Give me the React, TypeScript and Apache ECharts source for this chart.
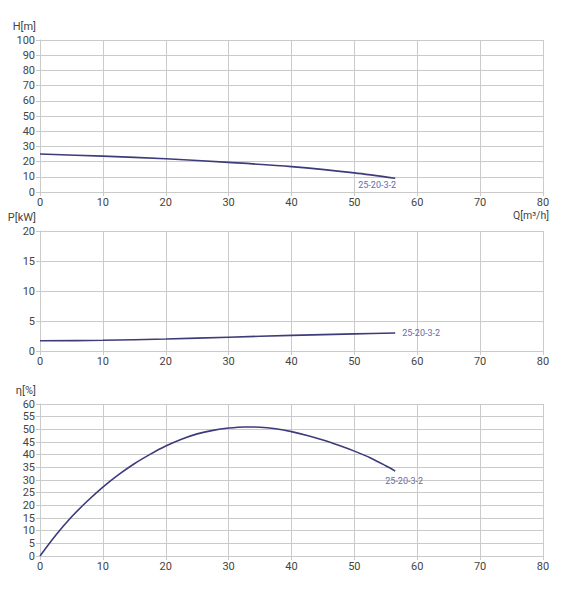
import * as echarts from "echarts";
import { useEffect, useRef } from "react";

// Q [m³/h] vs head, power and efficiency for pump 25-20-3-2
const pumpName = "25-20-3-2";
const qTicks = [0, 10, 20, 30, 40, 50, 60, 70, 80];
const qName = "Q[m³/h]";

const headCurve: [number, number][] = [
  [0, 25], [10, 23.6], [20, 21.9], [30, 19.5], [40, 16.7], [50, 12.6], [56.5, 9],
];
const powerCurve: [number, number][] = [
  [0, 1.7], [10, 1.78], [20, 2.0], [30, 2.3], [40, 2.6], [50, 2.85], [56.5, 3.0],
];
const effCurve: [number, number][] = [
  [0, 0], [2.5, 8.2], [5, 15.4], [7.5, 21.6], [10, 27.2], [12.5, 32.1], [15, 36.4],
  [17.5, 40.1], [20, 43.4], [22.5, 46.1], [25, 48.2], [27.5, 49.6], [30, 50.5],
  [32.5, 50.95], [35, 50.85], [37.5, 50.2], [40, 49.1], [42.5, 47.6], [45, 45.8],
  [47.5, 43.7], [50, 41.4], [52.5, 38.8], [55, 35.6], [56.5, 33.5],
];

const LINE = "#3d3b7a";
const LABEL = "#6b69a6";
const GRID = "#cacaca";
const TEXT = "#444";
const FONT = "Roboto, 'Noto Sans', sans-serif";

function xAxisFor(gridIndex: number): echarts.XAXisComponentOption {
  return {
    type: "value",
    gridIndex,
    min: qTicks[0],
    max: qTicks[qTicks.length - 1],
    interval: 10,
    axisLine: { lineStyle: { color: GRID } },
    axisTick: { show: true, length: 4, lineStyle: { color: GRID } },
    axisLabel: { color: TEXT, fontSize: 11, fontFamily: FONT, margin: 5 },
    splitLine: { show: true, lineStyle: { color: GRID, width: 1 } },
  };
}

function yAxisFor(
  gridIndex: number,
  name: string,
  max: number,
  interval: number,
): echarts.YAXisComponentOption {
  return {
    type: "value",
    gridIndex,
    min: 0,
    max,
    interval,
    name,
    nameLocation: "end",
    nameGap: 8,
    nameTextStyle: {
      color: TEXT,
      fontSize: 11,
      fontFamily: FONT,
      align: "right",
      padding: [0, 4, 0, 0],
    },
    axisLine: { show: true, lineStyle: { color: GRID } },
    axisTick: { show: true, length: 4, lineStyle: { color: GRID } },
    axisLabel: { color: TEXT, fontSize: 11, fontFamily: FONT, margin: 5 },
    splitLine: { show: true, lineStyle: { color: GRID, width: 1 } },
  };
}

function curveSeries(
  index: number,
  data: [number, number][],
  offset: [number, number],
): echarts.LineSeriesOption {
  return {
    type: "line",
    name: pumpName,
    xAxisIndex: index,
    yAxisIndex: index,
    data,
    smooth: 0.3,
    showSymbol: false,
    lineStyle: { color: LINE, width: 1.6 },
    endLabel: {
      show: true,
      formatter: pumpName,
      color: LABEL,
      fontSize: 9,
      fontFamily: FONT,
      offset,
    },
  };
}

export default function App() {
  const chartRef = useRef<HTMLDivElement | null>(null);

  useEffect(() => {
    if (!chartRef.current) return;
    const chart = echarts.init(chartRef.current, undefined, { renderer: "svg" });

    const option: echarts.EChartsOption = {
      animation: false,
      backgroundColor: "#fff",
      grid: [
        { left: 40, right: 19, top: 40, height: 152, outerBoundsMode: "none" },
        { left: 40, right: 19, top: 231, height: 120, outerBoundsMode: "none" },
        { left: 40, right: 19, top: 404, height: 152, outerBoundsMode: "none" },
      ] as any,
      xAxis: [xAxisFor(0), xAxisFor(1), xAxisFor(2)],
      yAxis: [
        yAxisFor(0, "H[m]", 100, 10),
        yAxisFor(1, "P[kW]", 20, 5),
        yAxisFor(2, "η[%]", 60, 5),
      ],
      graphic: [
        {
          type: "text",
          right: 13,
          top: 210,
          style: { text: qName, fill: TEXT, fontSize: 10.5, fontFamily: FONT },
        },
      ],
      series: [
        curveSeries(0, headCurve, [-45, 7]),
        curveSeries(1, powerCurve, [-1, 0]),
        curveSeries(2, effCurve, [-18, 10]),
      ],
    };

    chart.setOption(option);
    return () => {
      chart.dispose();
    };
  }, []);

  return (
    <div
      ref={chartRef}
      style={{ position: "absolute", left: 0, top: 0, width: 562, height: 606 }}
    />
  );
}
